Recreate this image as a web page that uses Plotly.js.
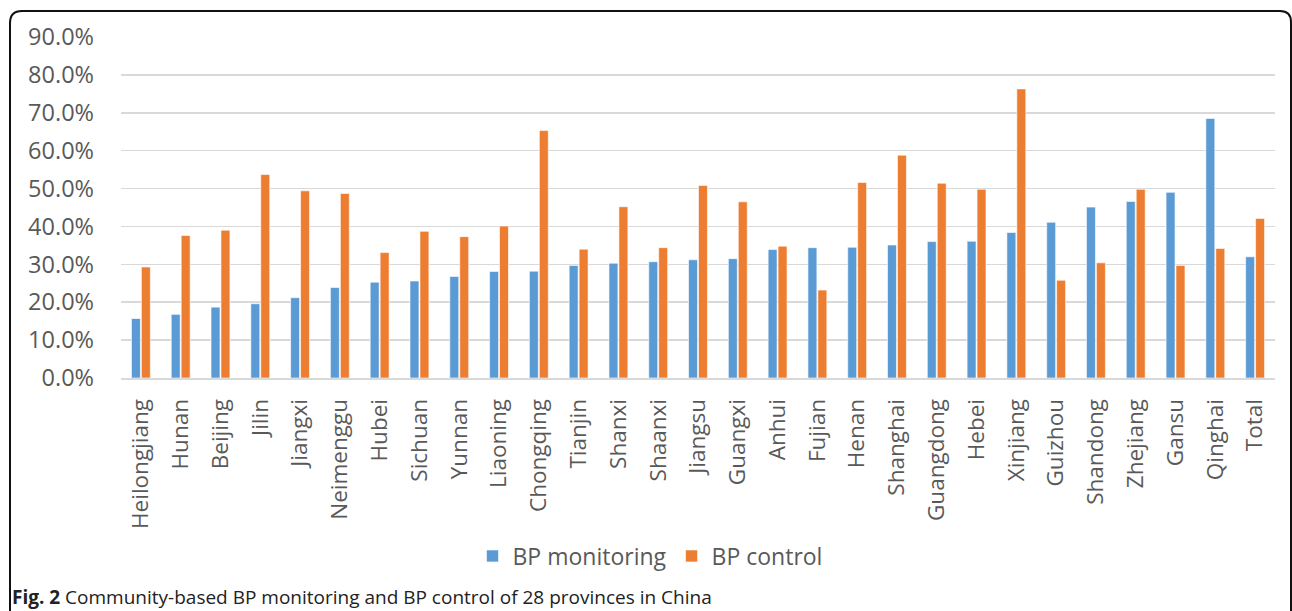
<!DOCTYPE html>
<html>
<head>
<meta charset="utf-8">
<script src="https://cdn.plot.ly/plotly-3.0.1.min.js"></script>
<style>
  html, body { margin: 0; padding: 0; background: #fff; }
  #chart { width: 1292px; height: 611px; }
</style>
</head>
<body>
<div id="chart"></div>
<script>
const provinces = ["Heilongjiang","Hunan","Beijing","Jilin","Jiangxi","Neimenggu","Hubei","Sichuan","Yunnan","Liaoning","Chongqing","Tianjin","Shanxi","Shaanxi","Jiangsu","Guangxi","Anhui","Fujian","Henan","Shanghai","Guangdong","Hebei","Xinjiang","Guizhou","Shandong","Zhejiang","Gansu","Qinghai","Total"];
const bpMonitoring = [0.157,0.168,0.187,0.196,0.212,0.239,0.253,0.256,0.268,0.281,0.282,0.297,0.303,0.307,0.312,0.315,0.339,0.344,0.345,0.351,0.360,0.361,0.384,0.411,0.451,0.466,0.490,0.685,0.320];
const bpControl = [0.293,0.376,0.390,0.537,0.494,0.487,0.331,0.387,0.373,0.401,0.653,0.340,0.452,0.344,0.508,0.465,0.348,0.232,0.516,0.588,0.514,0.498,0.763,0.258,0.304,0.498,0.297,0.342,0.421];
const yTicks = [0,0.1,0.2,0.3,0.4,0.5,0.6,0.7,0.8,0.9];
const seriesNames = ["BP monitoring","BP control"];
const caption = "<b>Fig. 2</b> Community-based BP monitoring and BP control of 28 provinces in China";

const W = 1292, H = 611;
const L = 121, R = 17, T = 37, B = 233;
const pw = W - L - R, ph = H - T - B;
const px = x => (x - L) / pw;
const py = y => (H - B - y) / ph;

const traces = [
  { type: 'bar', name: seriesNames[0], x: provinces, y: bpMonitoring,
    marker: { color: '#5B9BD5', line: { color: '#ffffff', width: 0.6 } } },
  { type: 'bar', name: seriesNames[1], x: provinces, y: bpControl,
    marker: { color: '#ED7D31', line: { color: '#ffffff', width: 0.6 } } }
];

const borderPath = `M ${px(10)} ${py(615)} L ${px(10)} ${py(23)} Q ${px(10)} ${py(11)} ${px(22)} ${py(11)} L ${px(1280)} ${py(11)} Q ${px(1291)} ${py(11)} ${px(1291)} ${py(22)} L ${px(1291)} ${py(615)}`;

const layout = {
  width: W, height: H,
  margin: { l: L, r: R, t: T, b: B, pad: 0 },
  paper_bgcolor: '#ffffff', plot_bgcolor: '#ffffff',
  font: { family: 'Open Sans, sans-serif', color: '#595959' },
  barmode: 'group', bargap: 0.5, bargroupgap: 0.1,
  showlegend: true,
  legend: { orientation: 'h', x: px(650), xanchor: 'center', y: py(556), yanchor: 'middle',
            font: { size: 23, color: '#595959' }, itemwidth: 30, traceorder: 'normal' },
  xaxis: { type: 'category', tickangle: -90, tickfont: { size: 22.5, color: '#595959' },
           showgrid: false, showline: true, linecolor: '#D9D9D9', linewidth: 2,
           ticks: '', ticklabelstandoff: 10, fixedrange: true },
  yaxis: { range: [0, 0.9], tickvals: yTicks, tickformat: '.1%',
           tickfont: { size: 23.5, color: '#595959' }, showgrid: true, gridcolor: '#D9D9D9', gridwidth: 1.5,
           zeroline: false, showline: false, ticks: '', ticklabelstandoff: 26, fixedrange: true },
  shapes: [
    { type: 'path', xref: 'paper', yref: 'paper', path: borderPath,
      line: { color: '#111111', width: 2 }, layer: 'above' }
  ],
  annotations: [
    { xref: 'paper', yref: 'paper', x: px(10), y: py(597), xanchor: 'left', yanchor: 'middle',
      text: caption, showarrow: false, font: { size: 19, color: '#222222', family: 'Open Sans, sans-serif' } }
  ]
};

Plotly.newPlot('chart', traces, layout, { displayModeBar: false, staticPlot: true });
</script>
</body>
</html>
